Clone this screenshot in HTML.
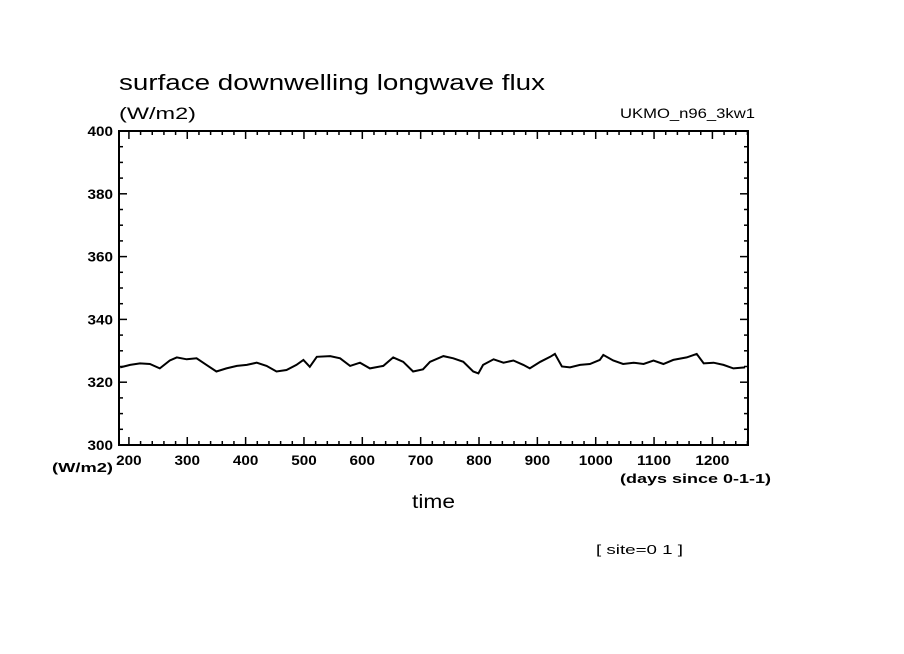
<!DOCTYPE html>
<html><head><meta charset="utf-8"><style>body{margin:0;background:#fff}svg{display:block}text{font-family:"Liberation Sans",sans-serif;fill:#000}</style></head>
<body>
<svg id="chart" width="904" height="654" xmlns="http://www.w3.org/2000/svg">
<text x="119" y="90" font-size="22" textLength="426" lengthAdjust="spacingAndGlyphs">surface downwelling longwave flux</text>
<text x="119" y="119" font-size="17" textLength="77" lengthAdjust="spacingAndGlyphs">(W/m2)</text>
<text x="620" y="118" font-size="14" textLength="135" lengthAdjust="spacingAndGlyphs">UKMO_n96_3kw1</text>
<text x="52" y="472" font-size="13" font-weight="bold" textLength="61" lengthAdjust="spacingAndGlyphs">(W/m2)</text>
<text x="620" y="483" font-size="13" font-weight="bold" textLength="151" lengthAdjust="spacingAndGlyphs">(days since 0-1-1)</text>
<text x="412" y="508" font-size="19" textLength="43" lengthAdjust="spacingAndGlyphs">time</text>
<text x="596" y="554" font-size="13" textLength="87" lengthAdjust="spacingAndGlyphs">[ site=0 1 ]</text>
<g id="axes"></g>
<path id="series" fill="none" stroke="#000" stroke-width="2"/>
<rect x="119" y="131" width="629" height="314" fill="none" stroke="#000" stroke-width="2"/>
</svg>
<script>
const days=[185,202,219,236,253,270,282,299,316,333,350,367,385,402,419,436,453,470,487,499,510,522,545,562,579,596,613,636,653,670,687,704,716,739,756,773,790,799,807,825,842,859,876,887,905,922,930,942,956,973,990,1007,1013,1030,1047,1065,1082,1099,1116,1133,1156,1173,1185,1202,1219,1236,1256];
const values=[324.7,325.5,326.0,325.8,324.4,326.9,327.9,327.3,327.6,325.5,323.4,324.4,325.2,325.5,326.2,325.2,323.4,323.9,325.5,327.1,324.9,328.1,328.3,327.6,325.2,326.2,324.4,325.2,327.9,326.5,323.4,324.1,326.5,328.3,327.6,326.5,323.4,322.8,325.5,327.3,326.2,326.9,325.5,324.4,326.5,328.1,329.0,325.0,324.7,325.5,325.8,327.1,328.7,326.9,325.8,326.2,325.8,326.9,325.8,327.1,327.9,329.0,326.0,326.2,325.5,324.4,324.7];
const xTicks=[200,300,400,500,600,700,800,900,1000,1100,1200];
const yTicks=[300,320,340,360,380,400];
const X0=119,X1=748,Y0=445,Y1=131,XMIN=183,XMAX=1261,YMIN=300,YMAX=400;
const sx=d=>X0+(d-XMIN)/(XMAX-XMIN)*(X1-X0);
const sy=v=>Y0-(v-YMIN)/(YMAX-YMIN)*(Y0-Y1);
const NS="http://www.w3.org/2000/svg";
const ax=document.getElementById('axes');
function ln(x1,y1,x2,y2){const l=document.createElementNS(NS,'line');l.setAttribute('x1',x1);l.setAttribute('y1',y1);l.setAttribute('x2',x2);l.setAttribute('y2',y2);l.setAttribute('stroke','#000');l.setAttribute('stroke-width','1.5');


ax.appendChild(l);}
function tx(x,y,s,anc,name){const t=document.createElementNS(NS,'text');t.setAttribute('x',x);t.setAttribute('y',y);t.setAttribute('font-size','14');t.setAttribute('font-weight','bold');t.setAttribute('text-anchor',anc);t.setAttribute('textLength',s.length*8.5);t.setAttribute('lengthAdjust','spacingAndGlyphs');t.textContent=s;


ax.appendChild(t);}
for(let d=200;d<=1260;d+=20){const x=sx(d);const big=d%100===0;const L=big?8:4;ln(x,Y0,x,Y0-L);ln(x,Y1,x,Y1+L);}
xTicks.forEach(d=>tx(sx(d),465,String(d),'middle','x-tick-label'));
for(let v=300;v<=400;v+=5){const y=sy(v);const big=v%20===0;const L=big?8:4;ln(X0,y,X0+L,y);ln(X1,y,X1-L,y);}
yTicks.forEach(v=>tx(113,sy(v)+5,String(v),'end','y-tick-label'));
document.getElementById('series').setAttribute('d',days.map((d,i)=>(i?'L':'M')+sx(d).toFixed(1)+' '+sy(values[i]).toFixed(1)).join(' '));
</script>
</body></html>
